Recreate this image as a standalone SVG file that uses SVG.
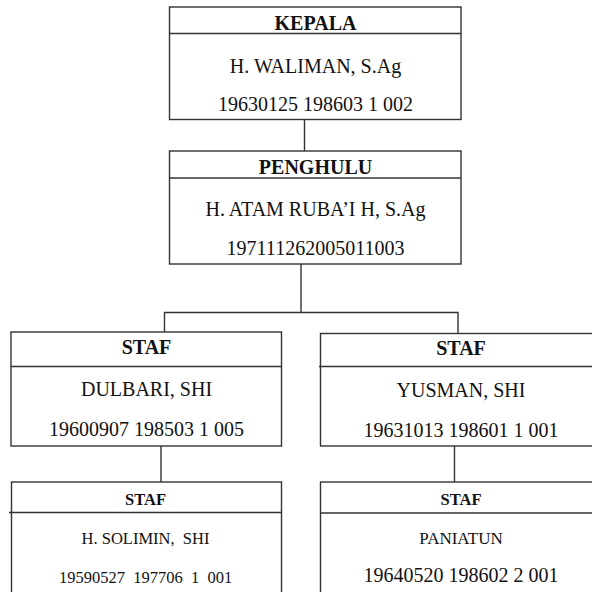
<svg xmlns="http://www.w3.org/2000/svg" width="592" height="592" viewBox="0 0 592 592">
<style>
.box{fill:#fff;stroke:#333;stroke-width:1.4}
.div{stroke:#333;stroke-width:1.4}
.con{fill:none;stroke:#333;stroke-width:1.4}
text{font-family:"Liberation Serif","Times New Roman",serif;fill:#111;text-anchor:middle}
.t{font-weight:bold;font-size:20px}
.n{font-size:20px}
.s{font-size:16.5px}
.p{font-size:17px}
.tb{font-weight:bold;font-size:16.5px}
</style>
<rect width="592" height="592" fill="#fff"/>
<g id="connectors">
<line class="con" x1="304.5" y1="120" x2="304.5" y2="151"/>
<polyline class="con" points="301,264 301,312.5"/>
<polyline class="con" points="164.5,332 164.5,312.5 458,312.5 458,333"/>
<line class="con" x1="161" y1="446" x2="161" y2="482"/>
<line class="con" x1="454.5" y1="446" x2="454.5" y2="482"/>
</g>
<g id="kepala">
<rect class="box" x="169.5" y="7" width="291.5" height="112.5"/>
<line class="div" x1="169.5" y1="33.5" x2="461" y2="33.5"/>
<text class="t" x="315.5" y="29.5">KEPALA</text>
<text class="n" x="315.5" y="72.5">H. WALIMAN, S.Ag</text>
<text class="n" x="315.5" y="111">19630125 198603 1 002</text>
</g>
<g id="penghulu">
<rect class="box" x="169.5" y="151" width="291.5" height="113"/>
<line class="div" x1="169.5" y1="178" x2="461" y2="178"/>
<text class="t" x="315.5" y="173.5">PENGHULU</text>
<text class="n" x="315.5" y="216">H. ATAM RUBA’I H, S.Ag</text>
<text class="n" x="315.5" y="254.5">197111262005011003</text>
</g>
<g id="staf-dulbari">
<rect class="box" x="11" y="332" width="270.5" height="114"/>
<line class="div" x1="11" y1="366.5" x2="281.5" y2="366.5"/>
<text class="t" x="146.5" y="354">STAF</text>
<text class="n" x="146.5" y="396">DULBARI, SHI</text>
<text class="n" x="146.5" y="436">19600907 198503 1 005</text>
</g>
<g id="staf-yusman">
<rect class="box" x="320.5" y="333.5" width="282" height="112.5"/>
<line class="div" x1="319" y1="366.5" x2="602.5" y2="366.5"/>
<text class="t" x="461" y="355">STAF</text>
<text class="n" x="461" y="397">YUSMAN, SHI</text>
<text class="n" x="461" y="436.5">19631013 198601 1 001</text>
</g>
<g id="staf-solimin">
<rect class="box" x="11.5" y="482" width="270" height="120"/>
<line class="div" x1="9" y1="512.5" x2="281.5" y2="512.5"/>
<text class="tb" x="145.5" y="505">STAF</text>
<text class="s" x="145.5" y="544" xml:space="preserve">H. SOLIMIN,  SHI</text>
<text class="s" x="145.5" y="582.5" xml:space="preserve">19590527  197706  1  001</text>
</g>
<g id="staf-paniatun">
<rect class="box" x="320.5" y="482" width="282" height="120"/>
<line class="div" x1="320.5" y1="513" x2="602.5" y2="513"/>
<text class="tb" x="461" y="505">STAF</text>
<text class="p" x="461" y="544">PANIATUN</text>
<text class="n" x="461" y="581.5">19640520 198602 2 001</text>
</g>
</svg>
